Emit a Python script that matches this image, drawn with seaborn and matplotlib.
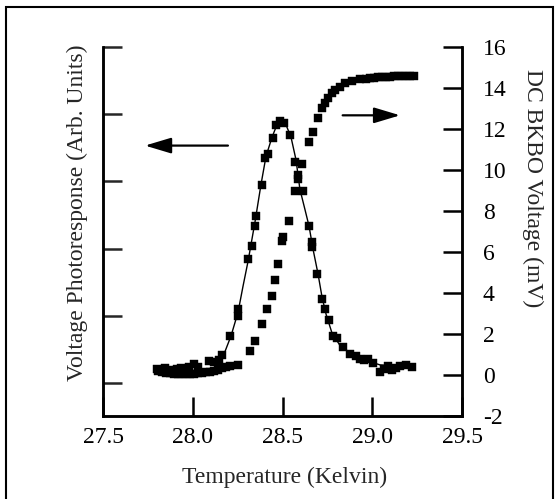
import matplotlib
matplotlib.use("Agg")
import pandas as pd
import seaborn as sns
import matplotlib.pyplot as plt
from matplotlib.patches import Rectangle

# photoresponse points (left axis, arb. units)
photo_t = [27.801, 27.823, 27.845, 27.868, 27.890, 27.912, 27.935, 27.957, 27.979, 28.007,
           28.029, 28.090, 28.118, 28.146, 28.163, 28.208, 28.252, 28.252, 28.308, 28.328,
           28.347, 28.352, 28.384, 28.402, 28.419, 28.445, 28.464, 28.486, 28.508, 28.542,
           28.570, 28.607, 28.586, 28.586, 28.570, 28.613, 28.648, 28.664, 28.664, 28.692,
           28.718, 28.737, 28.759, 28.781, 28.804, 28.837, 28.876, 28.910, 28.932, 28.954,
           28.976, 29.004, 29.043, 29.065, 29.088, 29.110, 29.132, 29.155, 29.188, 29.221]
photo_v = [0.21, 0.19, 0.22, 0.19, 0.18, 0.21, 0.22, 0.21, 0.24, 0.28,
           0.24, 0.33, 0.31, 0.34, 0.42, 0.70, 1.10, 0.99, 1.84, 2.03,
           2.34, 2.48, 2.95, 3.35, 3.40, 3.65, 3.83, 3.90, 3.86, 3.69,
           3.29, 3.26, 3.10, 3.03, 2.86, 2.85, 2.33, 2.09, 2.02, 1.62,
           1.25, 1.10, 0.93, 0.70, 0.67, 0.53, 0.43, 0.40, 0.36, 0.34,
           0.36, 0.30, 0.16, 0.21, 0.25, 0.19, 0.22, 0.25, 0.27, 0.24]

# smooth guide line drawn through the photoresponse peak
fit_t = [28.124, 28.174, 28.213, 28.252, 28.280, 28.308, 28.347, 28.380, 28.408, 28.441,
         28.469, 28.492, 28.519, 28.547, 28.575, 28.597, 28.625, 28.648, 28.670, 28.698,
         28.720, 28.743, 28.776, 28.820, 28.876, 28.960, 29.043, 29.221]
fit_v = [0.33, 0.43, 0.70, 1.05, 1.44, 1.81, 2.40, 2.95, 3.37, 3.65,
         3.84, 3.90, 3.84, 3.66, 3.32, 2.88, 2.58, 2.33, 1.99, 1.62,
         1.28, 1.02, 0.74, 0.56, 0.45, 0.34, 0.27, 0.24]

# DC BKBO voltage (right axis, mV)
dc_t = [27.806, 27.829, 27.851, 27.873, 27.896, 27.918, 27.940, 27.962, 27.985, 28.007,
        28.029, 28.052, 28.074, 28.096, 28.118, 28.141, 28.163, 28.185, 28.208, 28.252,
        28.319, 28.347, 28.384, 28.412, 28.440, 28.458, 28.475, 28.496, 28.501, 28.536,
        28.648, 28.670, 28.698, 28.720, 28.737, 28.753, 28.776, 28.792, 28.820, 28.848,
        28.887, 28.932, 28.965, 28.988, 29.010, 29.032, 29.054, 29.077, 29.099, 29.121,
        29.144, 29.166, 29.188, 29.210, 29.233]
dc_v = [0.19, 0.15, 0.10, 0.10, 0.05, 0.05, 0.05, 0.05, 0.05, 0.05,
        0.10, 0.10, 0.15, 0.15, 0.19, 0.24, 0.34, 0.39, 0.44, 0.48,
        1.16, 1.65, 2.47, 3.24, 3.87, 4.65, 5.42, 6.53, 6.73, 7.50,
        11.37, 11.86, 12.54, 13.02, 13.26, 13.50, 13.75, 13.90, 14.04, 14.23,
        14.33, 14.42, 14.45, 14.47, 14.49, 14.50, 14.52, 14.52, 14.54, 14.55,
        14.55, 14.56, 14.57, 14.57, 14.58]

x_ticks = [27.5, 28.0, 28.5, 29.0, 29.5]
x_labels = ["27.5", "28.0", "28.5", "29.0", "29.5"]
right_ticks = [-2, 0, 2, 4, 6, 8, 10, 12, 14, 16]
left_ticks = [0, 1, 2, 3, 4, 5]

sns.set_theme(style="ticks")
plt.rcParams["font.family"] = ["Liberation Serif", "DejaVu Serif"]
plt.rcParams["axes.unicode_minus"] = False

fig = plt.figure(figsize=(5.58, 4.99), dpi=100)
ax = fig.add_axes([0.1846, 0.1663, 0.6434, 0.7401])
ax2 = ax.twinx()

photo = pd.DataFrame({"T": photo_t, "V": photo_v})
fit = pd.DataFrame({"T": fit_t, "V": fit_v})
dc = pd.DataFrame({"T": dc_t, "V": dc_v})

sns.lineplot(data=fit, x="T", y="V", ax=ax, color="black", linewidth=1.0, sort=False)
sns.scatterplot(data=photo, x="T", y="V", ax=ax, marker="s", s=28, color="black",
                edgecolor="black", linewidth=0.3)
sns.scatterplot(data=dc, x="T", y="V", ax=ax2, marker="s", s=28, color="black",
                edgecolor="black", linewidth=0.3)

ax.set_xlim(27.5, 29.5)
ax.set_ylim(-0.49, 5.0)
ax2.set_ylim(-2, 16)

ax.set_xticks(x_ticks)
ax.set_xticklabels(x_labels)
ax.set_yticks(left_ticks)
ax.set_yticklabels([])
ax2.set_yticks(right_ticks)
ax2.set_yticklabels([str(v) for v in right_ticks])

ax.set_xlabel("")
ax.set_ylabel("")
ax2.set_ylabel("")

for a in (ax, ax2):
    a.spines["top"].set_visible(False)
    for s in ("left", "right", "bottom"):
        a.spines[s].set_linewidth(1.8)
        a.spines[s].set_color("black")

ax.tick_params(axis="x", direction="in", length=14, width=1.8, pad=8,
               labelsize=17, colors="black")
ax.tick_params(axis="y", direction="in", length=14, width=1.8, left=True, right=False,
               labelleft=False)
ax2.tick_params(axis="y", direction="in", length=14, width=1.8, pad=15,
                labelsize=17, colors="black")

# direction arrows
ax.annotate("", xy=(27.734, 3.53), xytext=(28.196, 3.53),
            arrowprops=dict(arrowstyle="-|>,head_length=1.0,head_width=0.3",
                            mutation_scale=16, color="black", lw=1.6,
                            shrinkA=0, shrinkB=0))
ax.annotate("", xy=(29.155, 3.98), xytext=(28.835, 3.98),
            arrowprops=dict(arrowstyle="-|>,head_length=1.0,head_width=0.3",
                            mutation_scale=16, color="black", lw=1.6,
                            shrinkA=0, shrinkB=0))

fig.text(77 / 558, 1 - 213 / 499, "Voltage Photoresponse (Arb. Units)", rotation=90,
         ha="center", va="center", fontsize=17)
fig.text(533 / 558, 1 - 188 / 499, "DC BKBO Voltage (mV)", rotation=270,
         ha="center", va="center", fontsize=17)
fig.text(285 / 558, 1 - 477 / 499, "Temperature (Kelvin)",
         ha="center", va="center", fontsize=17)

# frame around the whole figure
fig.patches.append(Rectangle((6 / 558, -0.02), 547 / 558, 1.02 - 6.5 / 499,
                             transform=fig.transFigure, fill=False,
                             edgecolor="black", linewidth=1.5))

fig.savefig("out.png", dpi=100)
